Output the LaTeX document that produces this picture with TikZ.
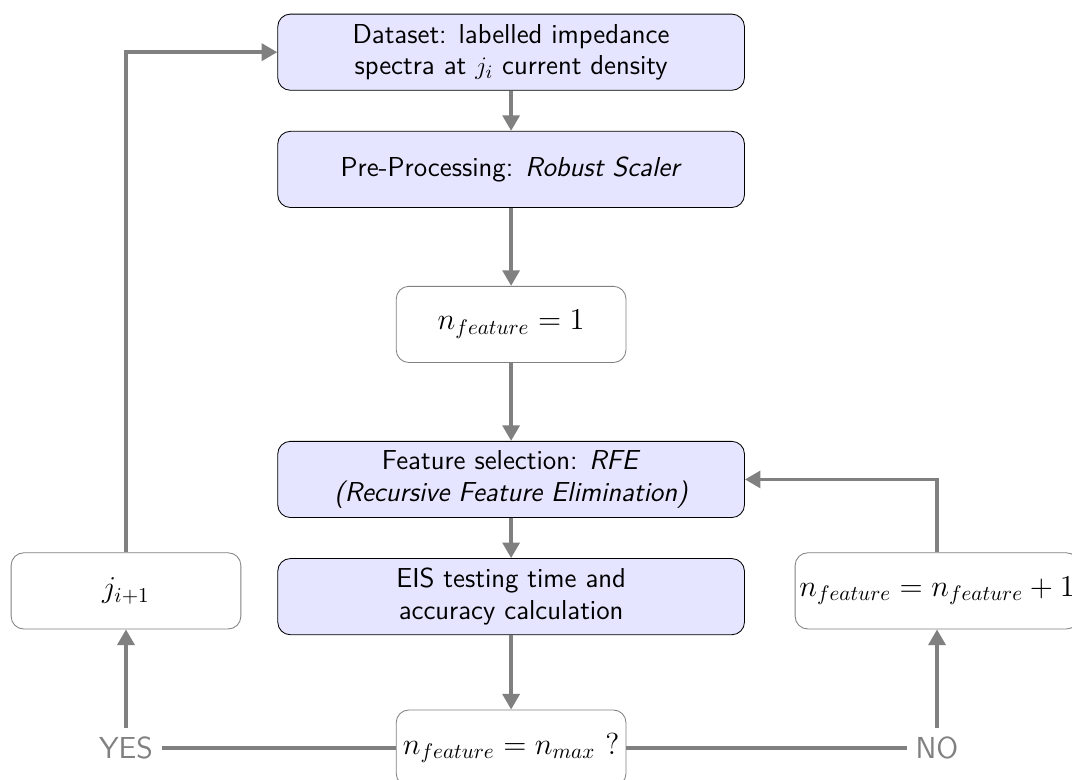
\documentclass[tikz,border=0pt]{standalone}
\usetikzlibrary{positioning,arrows.meta}

\tikzset{
  blockbox/.style={rectangle, rounded corners=6pt, draw=black, fill=blue!10,
    minimum width=7.78cm, minimum height=1.27cm, align=center, font=\sffamily\fontsize{13}{15}\selectfont},
  plainbox/.style={rectangle, rounded corners=6pt, draw=gray, fill=white,
    minimum width=3.83cm, minimum height=1.27cm, inner sep=2pt, align=center, font=\Large},
  flow/.style={draw=gray, line width=1.8pt, -{Triangle[length=2.6mm,width=2.8mm]}},
  link/.style={draw=gray, line width=1.8pt},
  answer/.style={text=gray, font=\sffamily\Large, inner sep=4pt}
}

\begin{document}
\begin{tikzpicture}
		%%%%% START %%%%%
		\useasboundingbox (0, 0) rectangle (17.87, -13);
		
		\node[blockbox] (dataset) at (8.52, -0.87) {Dataset: labelled impedance\\ spectra at $j_i$ current density};
		\node[blockbox, below=0.67cm of dataset] (preproc) {Pre-Processing: \textit{Robust Scaler}};
		\node[plainbox, below=1.3cm of preproc] (nstart) {$n_{feature}=1$};
		\node[blockbox, below=1.3cm of nstart] (rfe) {Feature selection: \textit{RFE}\\ \textit{(Recursive Feature Elimination)}};
		\node[blockbox, below=0.67cm of rfe] (eis) {EIS testing time and\\ accuracy calculation};
		\node[plainbox, below=1.24cm of eis] (check) {$n_{feature}=n_{max}$ ?};
		
		\node[plainbox] (jnext) at (2.1, -9.85) {$j_{i+1}$};
		\node[plainbox] (ninc) at (15.62, -9.85) {$n_{feature}=n_{feature}+1$};
		
		\node[answer] (yes) at (jnext |- check) {YES};
		\node[answer] (no) at (ninc |- check) {NO};
		
		\draw[flow] (dataset) -- (preproc);
		\draw[flow] (preproc) -- (nstart);
		\draw[flow] (nstart) -- (rfe);
		\draw[flow] (rfe) -- (eis);
		\draw[flow] (eis) -- (check);
		
		\draw[link] (check) -- (yes);
		\draw[link] (check) -- (no);
		\draw[flow] (yes) -- (jnext);
		\draw[flow] (no) -- (ninc);
		
		\draw[flow] (jnext) |- (dataset);
		\draw[flow] (ninc) |- (rfe);
		
		%%%%% END %%%%%
\end{tikzpicture}
\end{document}
